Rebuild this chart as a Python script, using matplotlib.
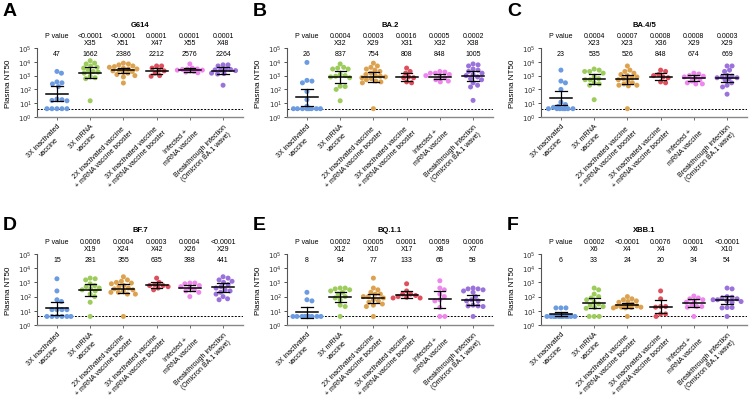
import numpy as np
import matplotlib
matplotlib.use("Agg")
import matplotlib.pyplot as plt
from matplotlib.ticker import LogLocator, NullFormatter

plt.rcParams['font.family'] = ['Liberation Sans', 'DejaVu Sans']

# ---- data ----
groups = ["3X inactivated\nvaccine", "3X mRNA\nvaccine",
          "2X inactivated vaccine\n+ mRNA vaccine booster",
          "3X inactivated vaccine\n+ mRNA vaccine booster",
          "Infected +\nmRNA vaccine",
          "Breakthrough infection\n(Omicron BA.1 wave)"]
colors = ['#6b9be0', '#9dcc5c', '#dca24f', '#de505d', '#ee86ee', '#9b72dc']
letters = ['A', 'B', 'C', 'D', 'E', 'F']
variants = ['G614', 'BA.2', 'BA.4/5', 'BF.7', 'BQ.1.1', 'XBB.1']

pvals = [['<0.0001', '<0.0001', '0.0001', '0.0001', '0.0001'],
         ['0.0004', '0.0003', '0.0016', '0.0005', '0.0002'],
         ['0.0004', '0.0007', '0.0008', '0.0008', '0.0003'],
         ['0.0006', '0.0004', '0.0003', '0.0004', '<0.0001'],
         ['0.0002', '0.0005', '0.0001', '0.0059', '0.0006'],
         ['0.0002', '<0.0001', '0.0076', '0.0001', '<0.0001']]
folds = [['X35', 'X51', 'X47', 'X55', 'X48'],
         ['X32', 'X29', 'X31', 'X32', 'X38'],
         ['X23', 'X23', 'X36', 'X29', 'X29'],
         ['X19', 'X24', 'X42', 'X26', 'X29'],
         ['X12', 'X10', 'X17', 'X8', 'X7'],
         ['X6', 'X4', 'X4', 'X6', 'X10']]
gmeans = [[47, 1662, 2386, 2212, 2576, 2264],
          [26, 837, 754, 808, 848, 1005],
          [23, 535, 526, 848, 674, 669],
          [15, 281, 355, 635, 388, 441],
          [8, 94, 77, 133, 65, 58],
          [6, 33, 24, 20, 34, 54]]

g614_pts = [[2000, 1500, 350, 300, 250, 160, 18, 16, 15, 20, 4, 4, 4, 4, 4],
            [12000, 8000, 7000, 5000, 4000, 3500, 2500, 2000, 1800, 1500, 900, 700, 600, 15],
            [8000, 7000, 6000, 5000, 4500, 4000, 3500, 3000, 3000, 2500, 2200, 2000, 1800,
             1500, 1200, 1000, 800, 290],
            [5000, 5000, 3500, 2500, 2200, 1500, 900, 1000],
            [7000, 3500, 3000, 3000, 2800, 2500, 2500, 2200, 2000, 1800, 1600],
            [6000, 6000, 5000, 3000, 2800, 2600, 2500, 2300, 1500, 1400, 1300, 200]]
ba2_pts = [[9000, 450, 400, 300, 70, 18, 6, 4, 4, 4, 4, 4, 4, 4, 4],
           [7000, 4000, 3500, 3000, 3000, 1200, 1000, 900, 800, 700, 170, 160, 100, 15],
           [8000, 5000, 4000, 3000, 2500, 2000, 1500, 1200, 1000, 900, 800, 700, 600, 500,
            400, 350, 300, 4],
           [3500, 2000, 1500, 800, 700, 700, 350, 300],
           [2000, 1800, 1500, 1500, 1200, 1000, 800, 700, 500, 400, 350],
           [7000, 6000, 5000, 3000, 2500, 2000, 1500, 1200, 1000, 800, 600, 500, 300, 200, 150, 16]]
ba45_pts = [[2500, 400, 300, 100, 12, 8, 6, 5, 4, 4, 4, 4, 4, 4, 4],
            [3000, 2500, 2000, 2000, 1500, 800, 600, 500, 500, 300, 250, 200, 18],
            [5000, 2500, 2000, 1500, 1200, 1000, 800, 700, 600, 500, 400, 300, 250, 200, 200, 180, 4],
            [2500, 2000, 1200, 1000, 800, 700, 350, 300],
            [1500, 1300, 1000, 900, 800, 700, 500, 400, 300, 250, 250],
            [5000, 5000, 2500, 2000, 1000, 900, 800, 700, 700, 600, 500, 300, 200, 150, 45]]
bf7_pts = [[1800, 250, 60, 45, 12, 12, 12, 12, 4, 4, 4, 4, 4, 4],
           [2000, 1800, 1500, 800, 600, 500, 400, 350, 300, 250, 150, 100, 40, 4],
           [2500, 1500, 1200, 1000, 900, 800, 600, 500, 400, 350, 300, 250, 200, 200, 150, 150, 4],
           [2000, 1000, 700, 600, 600, 500, 400, 300],
           [900, 900, 800, 600, 500, 400, 300, 250, 200, 100],
           [2500, 2000, 1500, 1200, 1000, 700, 500, 400, 300, 250, 200, 150, 100, 70, 60]]
bq11_pts = [[200, 60, 50, 4, 4, 4, 4, 4, 4, 4, 4, 4],
            [400, 400, 350, 300, 250, 200, 150, 100, 80, 60, 25, 20, 4],
            [2000, 400, 300, 200, 150, 150, 100, 100, 80, 60, 50, 40, 30, 25, 20, 4],
            [800, 250, 150, 150, 120, 100, 90, 80, 80],
            [1300, 400, 300, 150, 100, 60, 50, 17, 4, 4],
            [400, 350, 350, 300, 250, 200, 100, 60, 50, 50, 25, 22, 22, 20, 4]]
xbb1_pts = [[16, 16, 16, 4, 4, 4, 4, 4, 4, 4, 4, 4, 4, 4],
            [400, 300, 150, 100, 80, 60, 40, 30, 25, 20, 17, 15, 4, 4, 4],
            [100, 70, 60, 50, 45, 40, 30, 25, 22, 20, 20, 18, 18, 17, 16, 16, 4],
            [250, 70, 20, 20, 18, 6, 6, 4],
            [110, 80, 70, 60, 50, 40, 25, 20, 20, 18, 4],
            [400, 350, 100, 90, 80, 70, 60, 60, 50, 45, 40, 17, 17, 16, 4]]
all_pts = [g614_pts, ba2_pts, ba45_pts, bf7_pts, bq11_pts, xbb1_pts]
lod = 4


def swarm(yvals, px_dec, px_unit, d=4.8, maxpx=14.0):
    # greedy beeswarm, returns x offsets in data units
    ypx = np.log10(np.asarray(yvals, float)) * px_dec
    order = np.argsort(-ypx)
    placed = []
    offs = np.zeros(len(ypx))
    steps = [0.0]
    k = 1
    while k * 0.5 <= maxpx:
        steps += [k * 0.5, -k * 0.5]
        k += 1
    for i in order:
        best, best_gap = 0.0, -1e9
        for s in steps:
            gap = min([np.hypot(s - xp, ypx[i] - yp) for (xp, yp) in placed] or [1e9])
            if gap >= d:
                best = s
                break
            if gap > best_gap + 0.5:
                best, best_gap = s, gap
        placed.append((best, ypx[i]))
        offs[i] = best / px_unit
    return offs


fig = plt.figure(figsize=(7.5, 4.1), dpi=100)
lefts = [37, 287, 541]
rows = [(118, 69), (326, 71)]

for p in range(6):
    r, c = divmod(p, 3)
    ybot, hpx = rows[r]
    ax = fig.add_axes([lefts[c] / 750, 1 - ybot / 410, 206 / 750, hpx / 410])
    ax.set_yscale('log')
    ax.set_ylim(1, 1e5)
    ax.set_xlim(-0.6, 5.6)
    px_dec = hpx / 5.0
    px_unit = 206 / 6.2

    ax.axhline(lod, color='k', ls=(0, (2, 1.5)), lw=0.7, zorder=1)

    for g in range(6):
        vals = np.array(all_pts[p][g], float)
        xs = g + swarm(vals, px_dec, px_unit)
        ax.scatter(xs, vals, s=13, color=colors[g], edgecolors='none', zorder=2)
        lv = np.log10(vals)
        n = len(lv)
        t = 1.96 + 2.4 / (n - 1)
        half = t * lv.std(ddof=1) / np.sqrt(n)
        gm = gmeans[p][g]
        lo, hi = gm / 10 ** half, gm * 10 ** half
        ax.plot([g - 0.33, g + 0.33], [gm, gm], color='k', lw=1.1, zorder=3)
        ax.plot([g, g], [lo, hi], color='k', lw=0.9, zorder=3)
        ax.plot([g - 0.17, g + 0.17], [lo, lo], color='k', lw=0.9, zorder=3)
        ax.plot([g - 0.17, g + 0.17], [hi, hi], color='k', lw=0.9, zorder=3)

        ax.text(g, 0.92, str(gm), transform=ax.get_xaxis_transform(),
                ha='center', va='center', fontsize=5)
        if g == 0:
            ax.text(g, 1.18, 'P value', transform=ax.get_xaxis_transform(),
                    ha='center', va='center', fontsize=5)
        else:
            ax.text(g, 1.18, pvals[p][g - 1], transform=ax.get_xaxis_transform(),
                    ha='center', va='center', fontsize=5)
            ax.text(g, 1.08, folds[p][g - 1], transform=ax.get_xaxis_transform(),
                    ha='center', va='center', fontsize=5)

    ax.text(0.5, 1.34, variants[p], transform=ax.transAxes, ha='center',
            va='center', fontsize=5.5, fontweight='bold')
    fig.text((lefts[c] - 34) / 750, 1 - (12 if r == 0 else 225) / 410, letters[p],
             ha='left', va='center', fontsize=14, fontweight='bold')

    for s in ['top', 'right']:
        ax.spines[s].set_visible(False)
    ax.spines['left'].set_color('#555555')
    ax.spines['bottom'].set_color('#888888')
    ax.spines['left'].set_linewidth(0.8)
    ax.spines['bottom'].set_linewidth(1.0)

    ax.set_yticks([10 ** k for k in range(6)])
    ax.set_yticklabels(['$10^{%d}$' % k for k in range(6)], fontsize=5)
    ax.yaxis.set_minor_locator(LogLocator(base=10, subs=np.arange(2, 10)))
    ax.yaxis.set_minor_formatter(NullFormatter())
    ax.tick_params(axis='y', which='major', length=2.5, width=0.6, pad=1, colors='#333333')
    ax.tick_params(axis='y', which='minor', length=1.2, width=0.4, colors='#555555')
    ax.set_xticks(range(6))
    ax.set_xticklabels(groups, rotation=45, ha='right', rotation_mode='anchor',
                       fontsize=5, multialignment='center')
    ax.tick_params(axis='x', length=2, width=0.6, pad=2, colors='#555555', labelcolor='k')
    ax.set_ylabel('Plasma NT50', fontsize=5.8)
    ax.yaxis.set_label_coords(-0.12, 0.5)

fig.savefig('out.png', dpi=100)
